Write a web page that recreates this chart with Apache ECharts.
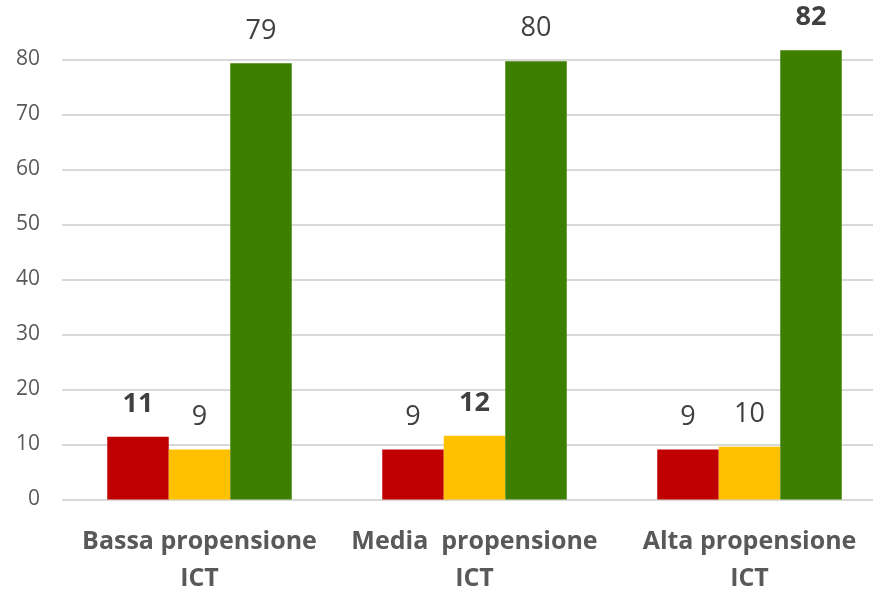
<!DOCTYPE html>
<html>
<head>
<meta charset="utf-8">
<script src="https://cdn.jsdelivr.net/npm/echarts@6/dist/echarts.min.js"></script>
<style>
html,body{margin:0;padding:0;background:#fff;}
#chart{width:873px;height:591px;}
</style>
</head>
<body>
<div id="chart"></div>
<script>
var categories = ['Bassa propensione\nICT', 'Media  propensione\nICT', 'Alta propensione\nICT'];
var redValues = [11.4, 9.1, 9.1];
var yellowValues = [9.1, 11.6, 9.6];
var greenValues = [79.3, 79.7, 81.7];
var yTicks = [0, 10, 20, 30, 40, 50, 60, 70, 80];

function makeSeries(name, values, color) {
  var maxV = Math.max.apply(null, values);
  return {
    name: name,
    type: 'bar',
    barWidth: 61.5,
    barGap: '0%',
    clip: false,
    itemStyle: { color: color },
    data: values.map(function (v) {
      return {
        value: v,
        label: { fontWeight: v === maxV ? 'bold' : 'normal' }
      };
    }),
    label: {
      show: true,
      position: 'top',
      distance: 19,
      fontFamily: 'Open Sans',
      fontSize: 27,
      color: '#404040',
      formatter: function (p) { return Math.round(p.value); }
    }
  };
}

var chart = echarts.init(document.getElementById('chart'));
chart.setOption({
  backgroundColor: '#ffffff',
  animation: false,
  grid: { left: 62, top: 59.5, width: 825, height: 440, outerBoundsMode: 'none', containLabel: false },
  xAxis: {
    type: 'category',
    data: categories,
    axisLine: { show: false },
    axisTick: { show: false },
    axisLabel: {
      margin: 24,
      fontFamily: 'Open Sans',
      fontWeight: 'bold',
      fontSize: 25,
      lineHeight: 37,
      color: '#595959',
      interval: 0
    }
  },
  yAxis: {
    type: 'value',
    min: yTicks[0],
    max: yTicks[yTicks.length - 1],
    interval: yTicks[1] - yTicks[0],
    axisLine: { show: false },
    axisTick: { show: false },
    splitLine: { lineStyle: { color: '#D9D9D9', width: 2 } },
    axisLabel: {
      margin: 22,
      fontFamily: 'Open Sans',
      fontSize: 21,
      color: '#595959'
    }
  },
  series: [
    makeSeries('Rosso', redValues, '#C00000'),
    makeSeries('Giallo', yellowValues, '#FFC000'),
    makeSeries('Verde', greenValues, '#3F7F00')
  ]
});
</script>
</body>
</html>
